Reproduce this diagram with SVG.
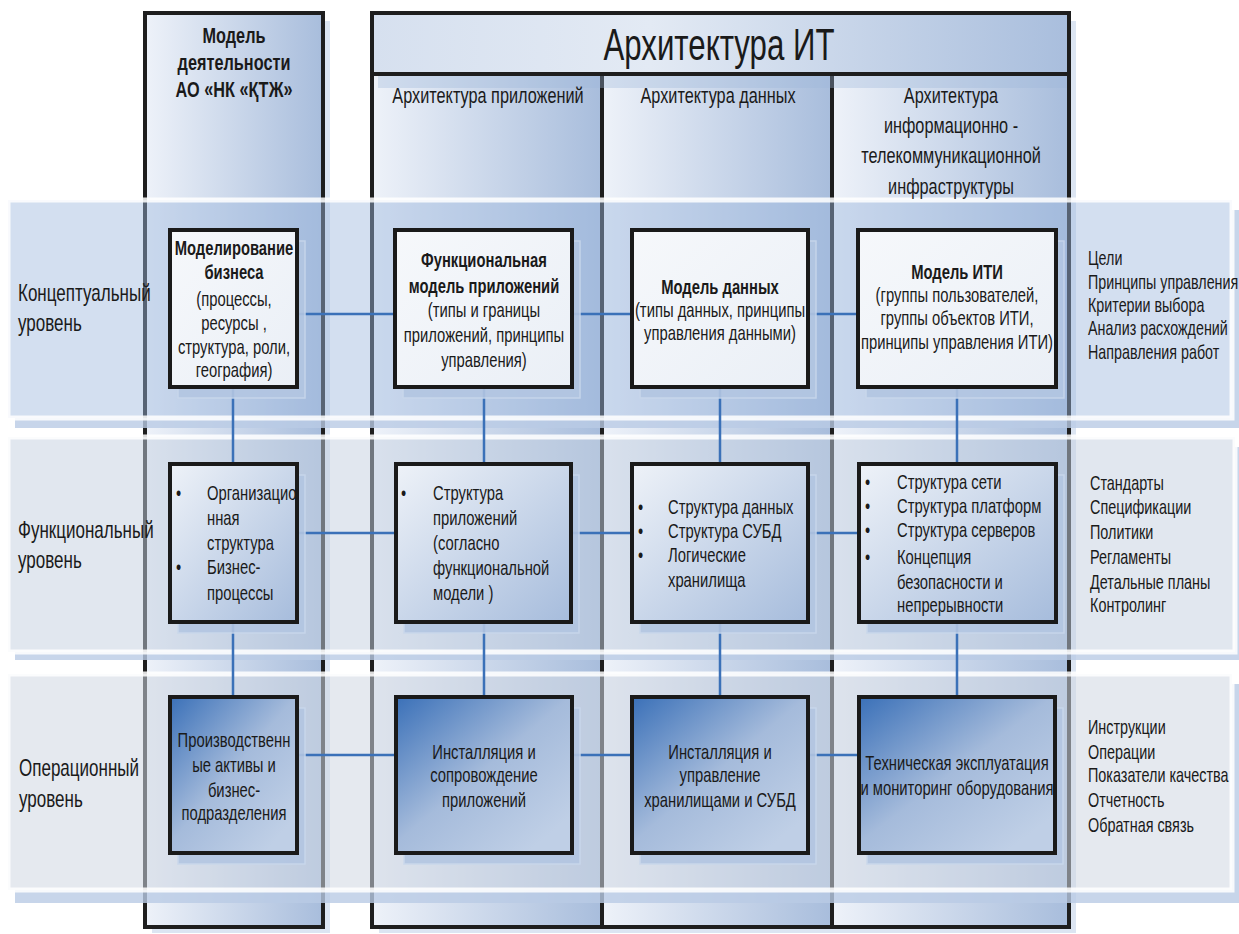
<svg xmlns="http://www.w3.org/2000/svg" width="1239" height="934" viewBox="0 0 1239 934">
<defs>
<linearGradient id="colG" x1="0" y1="0" x2="1" y2="0"><stop offset="0" stop-color="#eef2f9"/><stop offset="1" stop-color="#a8bddc"/></linearGradient>
<linearGradient id="hdrG" x1="0" y1="0" x2="1" y2="0"><stop offset="0" stop-color="#d6e0ef"/><stop offset="0.4" stop-color="#e3eaf4"/><stop offset="1" stop-color="#a9bedd"/></linearGradient>
<linearGradient id="n1G" x1="0" y1="0" x2="1" y2="1"><stop offset="0" stop-color="#f6f8fb"/><stop offset="1" stop-color="#eaeff6"/></linearGradient>
<linearGradient id="n2G" x1="0" y1="0" x2="1" y2="1"><stop offset="0" stop-color="#eef2f8"/><stop offset="1" stop-color="#a6bcdc"/></linearGradient>
<linearGradient id="n3G" x1="0" y1="0" x2="0.85" y2="0.9"><stop offset="0" stop-color="#3a70b8"/><stop offset="0.55" stop-color="#a5bbdb"/><stop offset="1" stop-color="#bfcfe6"/></linearGradient>
</defs>
<style>
.col{fill:url(#colG);stroke:#1e1e1e;stroke-width:4}
.cshadow{fill:#c4d3e9;opacity:0.6}
.bS{fill:#b9cbe5;opacity:0.8}
.bC{fill:#9db8de;fill-opacity:0.45;stroke:#ffffff;stroke-opacity:0.85;stroke-width:5}
.bF{fill:#c3cfe0;fill-opacity:0.5;stroke:#ffffff;stroke-opacity:0.85;stroke-width:5}
.bO{fill:#d0d7e2;fill-opacity:0.55;stroke:#ffffff;stroke-opacity:0.85;stroke-width:5}
.ns{fill:#b3c6e2;stroke:#c9d7eb;stroke-width:1.5;opacity:0.9}
.n1{fill:url(#n1G);stroke:#1a1a1a;stroke-width:4}
.n2{fill:url(#n2G);stroke:#1a1a1a;stroke-width:4}
.n3{fill:url(#n3G);stroke:#1a1a1a;stroke-width:4}
.cn{stroke:#3b71b8;stroke-width:2.5;fill:none}
text{font-family:"Liberation Sans",Arial,sans-serif;fill:#1a1a1a}
.bt{font-size:20px}
.bb{font-size:20px;font-weight:bold}
.c{text-anchor:middle}
.lab{font-size:23px}
.hd{font-size:22px}
.side{font-size:20px}
</style>

<g id="columns">
<rect class="cshadow" x="152" y="21" width="178" height="912"/>
<rect class="cshadow" x="379" y="21" width="697" height="912"/>
<rect class="col" x="145" y="13" width="178" height="914"/>
<rect class="col" x="372" y="74" width="230" height="853"/>
<rect class="col" x="602" y="74" width="230" height="853"/>
<rect class="col" x="832" y="74" width="237" height="853"/>
<rect x="372" y="13" width="697" height="61" fill="url(#hdrG)" stroke="#1e1e1e" stroke-width="4"/>
<rect x="378" y="76" width="689" height="12" fill="#9fb7da" opacity="0.35"/>
</g>

<g id="bands">
<rect class="bS" x="15" y="418" width="1224" height="10"/>
<rect class="bS" x="1232" y="210" width="7" height="208"/>
<rect class="bC" x="8" y="200" width="1224" height="218"/>
<rect class="bS" x="15" y="652" width="1224" height="8"/>
<rect class="bS" x="1235" y="447" width="4" height="205"/>
<rect class="bF" x="8" y="437" width="1227" height="215"/>
<rect class="bS" x="15" y="890" width="1224" height="13"/>
<rect class="bS" x="1232" y="684" width="7" height="206"/>
<rect class="bO" x="8" y="674" width="1224" height="216"/>
</g>

<g id="headers">
<text class="bb c" transform="translate(234 0) scale(0.74 1)" style="font-size:22px"><tspan x="0" y="43">Модель</tspan><tspan x="0" y="70">деятельности</tspan><tspan x="0" y="97">АО «НК «ҚТЖ»</tspan></text>
<text class="c" transform="translate(719 0) scale(0.71 1)" style="font-size:44px"><tspan x="0" y="60">Архитектура ИТ</tspan></text>
<text class="hd c" transform="translate(488 0) scale(0.74 1)"><tspan x="0" y="103">Архитектура приложений</tspan></text>
<text class="hd c" transform="translate(718 0) scale(0.74 1)"><tspan x="0" y="103">Архитектура данных</tspan></text>
<text class="hd c" transform="translate(951 0) scale(0.74 1)"><tspan x="0" y="103">Архитектура</tspan><tspan x="0" y="133">информационно -</tspan><tspan x="0" y="163">телекоммуникационной</tspan><tspan x="0" y="194">инфраструктуры</tspan></text>
</g>

<g id="levels">
<text class="lab" transform="translate(18 0) scale(0.74 1)"><tspan x="0" y="301">Концептуальный</tspan><tspan x="0" y="331">уровень</tspan></text>
<text class="lab" transform="translate(18 0) scale(0.74 1)"><tspan x="0" y="538">Функциональный</tspan><tspan x="0" y="568">уровень</tspan></text>
<text class="lab" transform="translate(19 0) scale(0.74 1)"><tspan x="0" y="776">Операционный</tspan><tspan x="0" y="807">уровень</tspan></text>
</g>

<g id="side-notes">
<text class="side" transform="translate(1088 0) scale(0.715 1)"><tspan x="0" y="265">Цели</tspan><tspan x="0" y="289">Принципы управления</tspan><tspan x="0" y="312">Критерии выбора</tspan><tspan x="0" y="335">Анализ расхождений</tspan><tspan x="0" y="359">Направления работ</tspan></text>
<text class="side" transform="translate(1090 0) scale(0.72 1)"><tspan x="0" y="490">Стандарты</tspan><tspan x="0" y="514">Спецификации</tspan><tspan x="0" y="539">Политики</tspan><tspan x="0" y="564">Регламенты</tspan><tspan x="0" y="589">Детальные планы</tspan><tspan x="0" y="612">Контролинг</tspan></text>
<text class="side" transform="translate(1088 0) scale(0.72 1)"><tspan x="0" y="734">Инструкции</tspan><tspan x="0" y="759">Операции</tspan><tspan x="0" y="782">Показатели качества</tspan><tspan x="0" y="807">Отчетность</tspan><tspan x="0" y="832">Обратная связь</tspan></text>
</g>

<g id="connectors">
<line class="cn" x1="297" y1="314" x2="858" y2="314"/>
<line class="cn" x1="297" y1="533" x2="859" y2="533"/>
<line class="cn" x1="297" y1="755" x2="859" y2="755"/>
<line class="cn" x1="233" y1="387" x2="233" y2="697"/>
<line class="cn" x1="484" y1="387" x2="484" y2="697"/>
<line class="cn" x1="720" y1="387" x2="720" y2="697"/>
<line class="cn" x1="957" y1="387" x2="957" y2="697"/>
</g>

<g id="node-biz-model">
<rect class="ns" x="178" y="241" width="127" height="157"/>
<rect class="n1" x="170" y="230" width="127" height="157"/>
<text class="c" transform="translate(234 0) scale(0.74 1)"><tspan class="bb" x="0" y="255">Моделирование</tspan><tspan class="bb" x="0" y="279">бизнеса</tspan><tspan class="bt" x="0" y="306">(процессы,</tspan><tspan class="bt" x="0" y="330">ресурсы ,</tspan><tspan class="bt" x="0" y="354">структура, роли,</tspan><tspan class="bt" x="0" y="377">география)</tspan></text>
</g>
<g id="node-app-model">
<rect class="ns" x="403" y="241" width="177" height="157"/>
<rect class="n1" x="395" y="230" width="177" height="157"/>
<text class="c" transform="translate(484 0) scale(0.74 1)"><tspan class="bb" x="0" y="267">Функциональная</tspan><tspan class="bb" x="0" y="293">модель приложений</tspan><tspan class="bt" x="0" y="317">(типы и границы</tspan><tspan class="bt" x="0" y="342">приложений, принципы</tspan><tspan class="bt" x="0" y="367">управления)</tspan></text>
</g>
<g id="node-data-model">
<rect class="ns" x="640" y="241" width="176" height="157"/>
<rect class="n1" x="632" y="230" width="176" height="157"/>
<text class="c" transform="translate(720 0) scale(0.74 1)"><tspan class="bb" x="0" y="294">Модель данных</tspan><tspan class="bt" x="0" y="317">(типы данных, принципы</tspan><tspan class="bt" x="0" y="340">управления данными)</tspan></text>
</g>
<g id="node-iti-model">
<rect class="ns" x="866" y="241" width="198" height="157"/>
<rect class="n1" x="858" y="230" width="198" height="157"/>
<text class="c" transform="translate(957 0) scale(0.74 1)"><tspan class="bb" x="0" y="279">Модель ИТИ</tspan><tspan class="bt" x="0" y="302">(группы пользователей,</tspan><tspan class="bt" x="0" y="325">группы объектов ИТИ,</tspan><tspan class="bt" x="0" y="349">принципы управления ИТИ)</tspan></text>
</g>

<g id="node-org">
<rect class="ns" x="178" y="475" width="127" height="158"/>
<rect class="n2" x="170" y="464" width="127" height="158"/>
<text class="bt" transform="translate(176 0) scale(0.74 1)"><tspan x="0" y="500">•</tspan><tspan x="0" y="574">•</tspan></text>
<text class="bt" transform="translate(207 0) scale(0.74 1)"><tspan x="0" y="500">Организацио</tspan><tspan x="0" y="525">нная</tspan><tspan x="0" y="550">структура</tspan><tspan x="0" y="574">Бизнес-</tspan><tspan x="0" y="600">процессы</tspan></text>
</g>
<g id="node-app-struct">
<rect class="ns" x="404" y="475" width="175" height="158"/>
<rect class="n2" x="396" y="464" width="175" height="158"/>
<text class="bt" transform="translate(401 0) scale(0.74 1)"><tspan x="0" y="500">•</tspan></text>
<text class="bt" transform="translate(433 0) scale(0.74 1)"><tspan x="0" y="500">Структура</tspan><tspan x="0" y="525">приложений</tspan><tspan x="0" y="550">(согласно</tspan><tspan x="0" y="575">функциональной</tspan><tspan x="0" y="600">модели )</tspan></text>
</g>
<g id="node-data-struct">
<rect class="ns" x="640" y="475" width="176" height="158"/>
<rect class="n2" x="632" y="464" width="176" height="158"/>
<text class="bt" transform="translate(638 0) scale(0.74 1)"><tspan x="0" y="514">•</tspan><tspan x="0" y="538">•</tspan><tspan x="0" y="562">•</tspan></text>
<text class="bt" transform="translate(668 0) scale(0.74 1)"><tspan x="0" y="514">Структура  данных</tspan><tspan x="0" y="538">Структура  СУБД</tspan><tspan x="0" y="562">Логические</tspan><tspan x="0" y="587">хранилища</tspan></text>
</g>
<g id="node-iti-struct">
<rect class="ns" x="867" y="475" width="197" height="158"/>
<rect class="n2" x="859" y="464" width="197" height="158"/>
<text class="bt" transform="translate(865 0) scale(0.74 1)"><tspan x="0" y="489">•</tspan><tspan x="0" y="513">•</tspan><tspan x="0" y="537">•</tspan><tspan x="0" y="564">•</tspan></text>
<text class="bt" transform="translate(897 0) scale(0.74 1)"><tspan x="0" y="489">Структура  сети</tspan><tspan x="0" y="513">Структура платформ</tspan><tspan x="0" y="537">Структура серверов</tspan><tspan x="0" y="564">Концепция</tspan><tspan x="0" y="589">безопасности и</tspan><tspan x="0" y="612">непрерывности</tspan></text>
</g>

<g id="node-assets">
<rect class="ns" x="178" y="708" width="127" height="156"/>
<rect class="n3" x="170" y="697" width="127" height="156"/>
<text class="bt c" transform="translate(234 0) scale(0.74 1)"><tspan x="0" y="747">Производственн</tspan><tspan x="0" y="772">ые активы и</tspan><tspan x="0" y="797">бизнес-</tspan><tspan x="0" y="820">подразделения</tspan></text>
</g>
<g id="node-app-install">
<rect class="ns" x="404" y="708" width="176" height="156"/>
<rect class="n3" x="396" y="697" width="176" height="156"/>
<text class="bt c" transform="translate(484 0) scale(0.74 1)"><tspan x="0" y="759">Инсталляция и</tspan><tspan x="0" y="782">сопровождение</tspan><tspan x="0" y="807">приложений</tspan></text>
</g>
<g id="node-db-install">
<rect class="ns" x="640" y="708" width="176" height="156"/>
<rect class="n3" x="632" y="697" width="176" height="156"/>
<text class="bt c" transform="translate(720 0) scale(0.74 1)"><tspan x="0" y="759">Инсталляция и</tspan><tspan x="0" y="782">управление</tspan><tspan x="0" y="807">хранилищами и СУБД</tspan></text>
</g>
<g id="node-hw-ops">
<rect class="ns" x="867" y="708" width="196" height="156"/>
<rect class="n3" x="859" y="697" width="196" height="156"/>
<text class="bt c" transform="translate(957 0) scale(0.74 1)"><tspan x="0" y="770">Техническая эксплуатация</tspan><tspan x="0" y="795">и мониторинг оборудования</tspan></text>
</g>
</svg>
